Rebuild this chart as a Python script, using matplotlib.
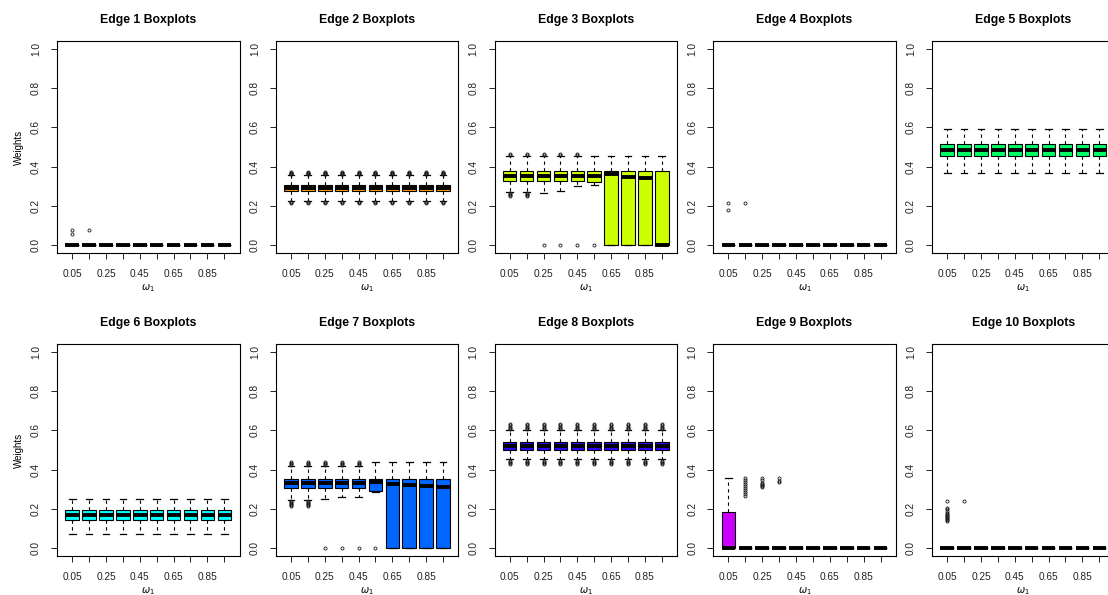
import matplotlib
matplotlib.use("Agg")
import matplotlib.pyplot as plt

plt.rcParams['font.family'] = ['Liberation Sans', 'DejaVu Sans']

omega_labels = ["0.05", "", "0.25", "", "0.45", "", "0.65", "", "0.85", ""]
titles = ["Edge %d Boxplots" % i for i in range(1, 11)]
colors = ["#FF0000", "#FF9900", "#CCFF00", "#33FF00", "#00FF66",
          "#00FFFF", "#0066FF", "#3300FF", "#CC00FF", "#FF0099"]

Z10 = [0.0] * 10

# Edge 1
e1_lo, e1_q1, e1_med, e1_q3, e1_hi = Z10, Z10, Z10, Z10, Z10
e1_out = [[0.055, 0.077], [0.077], [], [], [], [], [], [], [], []]

# Edge 2
e2_lo = [0.225] * 10
e2_q1 = [0.276] * 10
e2_med = [0.291] * 10
e2_q3 = [0.306] * 10
e2_hi = [0.355] * 10
e2_out = [[0.215, 0.218, 0.221, 0.36, 0.363, 0.366, 0.369, 0.372]] * 10

# Edge 3
e3_lo = [0.272, 0.272, 0.264, 0.277, 0.300, 0.306, 0.0, 0.0, 0.0, 0.0]
e3_q1 = [0.328, 0.328, 0.328, 0.328, 0.328, 0.320, 0.0, 0.0, 0.0, 0.0]
e3_med = [0.354, 0.354, 0.354, 0.354, 0.354, 0.354, 0.362, 0.349, 0.343, 0.0]
e3_q3 = [0.378] * 10
e3_hi = [0.454] * 10
e3_out = [[0.25, 0.255, 0.26, 0.265, 0.458, 0.462],
          [0.25, 0.255, 0.26, 0.265, 0.458, 0.462],
          [0.0, 0.458, 0.462], [0.0, 0.458, 0.462], [0.0, 0.458, 0.462],
          [0.0], [], [], [], []]

# Edge 4
e4_lo, e4_q1, e4_med, e4_q3, e4_hi = Z10, Z10, Z10, Z10, Z10
e4_out = [[0.177, 0.216], [0.216], [], [], [], [], [], [], [], []]

# Edge 5
e5_lo = [0.367] * 10
e5_q1 = [0.452] * 10
e5_med = [0.483] * 10
e5_q3 = [0.516] * 10
e5_hi = [0.593] * 10
e5_out = [[]] * 10

# Edge 6
e6_lo = [0.070] * 10
e6_q1 = [0.144] * 10
e6_med = [0.169] * 10
e6_q3 = [0.192] * 10
e6_hi = [0.249] * 10
e6_out = [[]] * 10

# Edge 7
e7_lo = [0.245, 0.245, 0.249, 0.261, 0.261, 0.286, 0.0, 0.0, 0.0, 0.0]
e7_q1 = [0.308, 0.308, 0.308, 0.308, 0.308, 0.290, 0.0, 0.0, 0.0, 0.0]
e7_med = [0.334, 0.334, 0.334, 0.334, 0.334, 0.337, 0.329, 0.324, 0.317, 0.309]
e7_q3 = [0.352] * 10
e7_hi = [0.420, 0.420, 0.420, 0.420, 0.420, 0.437, 0.437, 0.437, 0.437, 0.437]
e7_out = [[0.215, 0.22, 0.225, 0.23, 0.235, 0.24, 0.425, 0.43, 0.435, 0.44],
          [0.215, 0.22, 0.225, 0.23, 0.235, 0.24, 0.425, 0.43, 0.435, 0.44],
          [0.0, 0.425, 0.43, 0.435, 0.44], [0.0, 0.425, 0.43, 0.435, 0.44],
          [0.0, 0.425, 0.43, 0.435, 0.44], [0.0], [], [], [], []]

# Edge 8
e8_lo = [0.452] * 10
e8_q1 = [0.499] * 10
e8_med = [0.520] * 10
e8_q3 = [0.540] * 10
e8_hi = [0.601] * 10
e8_out = [[0.431, 0.436, 0.441, 0.446, 0.606, 0.611, 0.616, 0.626, 0.634]] * 10

# Edge 9
e9_lo = Z10
e9_q1 = Z10
e9_med = Z10
e9_q3 = [0.182] + [0.0] * 9
e9_hi = [0.355] + [0.0] * 9
e9_out = [[], [0.266, 0.275, 0.285, 0.295, 0.305, 0.315, 0.325, 0.335, 0.345, 0.358],
          [0.312, 0.316, 0.32, 0.325, 0.33, 0.345, 0.358], [0.335, 0.34, 0.355],
          [], [], [], [], [], []]

# Edge 10
e10_lo, e10_q1, e10_med, e10_q3, e10_hi = Z10, Z10, Z10, Z10, Z10
e10_out = [[0.139, 0.145, 0.15, 0.155, 0.16, 0.165, 0.17, 0.175, 0.18, 0.19, 0.2, 0.207, 0.238],
           [0.238], [], [], [], [], [], [], [], []]

edges = [
    (e1_lo, e1_q1, e1_med, e1_q3, e1_hi, e1_out),
    (e2_lo, e2_q1, e2_med, e2_q3, e2_hi, e2_out),
    (e3_lo, e3_q1, e3_med, e3_q3, e3_hi, e3_out),
    (e4_lo, e4_q1, e4_med, e4_q3, e4_hi, e4_out),
    (e5_lo, e5_q1, e5_med, e5_q3, e5_hi, e5_out),
    (e6_lo, e6_q1, e6_med, e6_q3, e6_hi, e6_out),
    (e7_lo, e7_q1, e7_med, e7_q3, e7_hi, e7_out),
    (e8_lo, e8_q1, e8_med, e8_q3, e8_hi, e8_out),
    (e9_lo, e9_q1, e9_med, e9_q3, e9_hi, e9_out),
    (e10_lo, e10_q1, e10_med, e10_q3, e10_hi, e10_out),
]

W, H = 1108, 595
fig = plt.figure(figsize=(W / 100, H / 100), dpi=100)

col_left = 57
col_step = 218.75
ax_w = 182.5
row_tops = [41, 344]
ax_h = 212

for k in range(10):
    r, c = divmod(k, 5)
    left = (col_left + c * col_step) / W
    bottom = 1 - (row_tops[r] + ax_h) / H
    ax = fig.add_axes([left, bottom, ax_w / W, ax_h / H])
    lo, q1, med, q3, hi, out = edges[k]
    stats = []
    for i in range(10):
        stats.append(dict(whislo=lo[i], q1=q1[i], med=med[i], q3=q3[i],
                          whishi=hi[i], fliers=out[i]))
    ax.bxp(stats, positions=list(range(1, 11)), widths=0.8, patch_artist=True,
           capwidths=0.4,
           boxprops=dict(facecolor=colors[k], edgecolor='black', linewidth=0.8),
           medianprops=dict(color='black', linewidth=2.8, solid_capstyle='butt'),
           whiskerprops=dict(color='black', linewidth=0.8, linestyle=(0, (3, 3))),
           capprops=dict(color='black', linewidth=0.9),
           flierprops=dict(marker='o', markerfacecolor='none', markeredgecolor='#1a1a1a',
                           markersize=2.2, markeredgewidth=0.6))
    ax.set_xlim(0.1, 10.9)
    ax.set_ylim(-0.04, 1.04)
    ax.set_xticks(range(1, 11))
    ax.set_xticklabels(omega_labels)
    ax.set_yticks([0.0, 0.2, 0.4, 0.6, 0.8, 1.0])
    ax.set_yticklabels(["0.0", "0.2", "0.4", "0.6", "0.8", "1.0"],
                       rotation=90, va='center')
    ax.tick_params(axis='both', labelsize=7.3, length=4.5, width=0.7,
                   colors='#222222')
    ax.tick_params(axis='x', pad=7)
    ax.tick_params(axis='y', pad=7)
    for s in ax.spines.values():
        s.set_linewidth(0.8)
        s.set_color('black')
    ax.set_title(titles[k], fontsize=8.8, fontweight='bold', pad=13)
    ax.set_xlabel(r'$\omega_1$', fontsize=7, labelpad=2)
    if c == 0:
        ax.set_ylabel("Weights", fontsize=7, labelpad=5)

fig.savefig("out.png", dpi=100)
